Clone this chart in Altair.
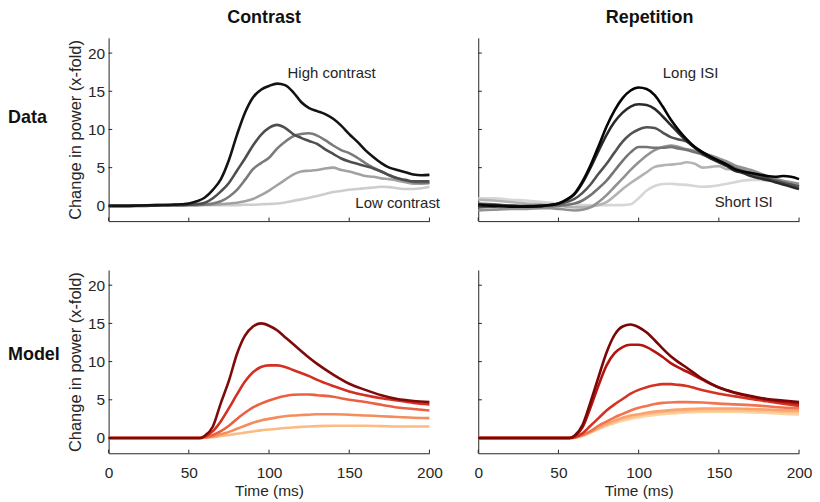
import altair as alt
import pandas as pd

FONT = "Liberation Sans, Arial, Helvetica, sans-serif"
INK = "#262626"

# ---------------- data ----------------
t_data = [0, 10, 20, 30, 40, 45, 50, 55, 60, 65, 70, 75, 80, 85, 90, 95, 100, 105, 110,
          115, 120, 125, 130, 135, 140, 145, 150, 155, 160, 165, 170, 175, 180, 185, 190, 195, 200]

# Contrast data (high -> low contrast)
cd_1 = [0, 0, 0.05, 0.1, 0.15, 0.2, 0.3, 0.6, 1.1, 2.1, 3.5, 6.0, 9.3, 12.2, 14.2, 15.2, 15.7, 16.0, 15.8,
        14.9, 13.6, 12.8, 12.4, 12.0, 11.4, 10.5, 9.4, 8.4, 7.3, 6.4, 5.6, 5.0, 4.7, 4.4, 4.1, 4.0, 4.05]
cd_2 = [0, 0, 0, 0.05, 0.1, 0.1, 0.15, 0.2, 0.4, 1.0, 1.9, 3.0, 4.6, 6.2, 7.9, 9.3, 10.2, 10.6, 10.2,
        9.4, 8.9, 8.5, 8.1, 7.4, 6.8, 6.2, 5.8, 5.5, 5.2, 4.9, 4.5, 4.0, 3.6, 3.4, 3.2, 3.2, 3.2]
cd_3 = [0, 0, 0.05, 0.1, 0.1, 0.1, 0.1, 0.1, 0.15, 0.3, 0.6, 1.2, 2.1, 3.4, 4.8, 5.6, 6.3, 7.5, 8.4,
        9.1, 9.4, 9.5, 9.2, 8.6, 7.9, 7.3, 6.9, 6.3, 5.6, 5.0, 4.5, 4.0, 3.6, 3.3, 3.1, 3.0, 3.0]
cd_4 = [0, 0, 0.05, 0.1, 0.15, 0.15, 0.15, 0.15, 0.15, 0.15, 0.2, 0.3, 0.4, 0.6, 0.9, 1.4, 2.0, 2.7, 3.4,
        4.1, 4.5, 4.6, 4.7, 4.9, 5.0, 4.7, 4.5, 4.2, 3.9, 3.8, 3.6, 3.5, 3.3, 3.1, 2.9, 2.9, 3.0]
cd_5 = [0, 0, 0, 0.05, 0.1, 0.1, 0.1, 0.1, 0.1, 0.1, 0.1, 0.1, 0.1, 0.15, 0.15, 0.2, 0.25, 0.3, 0.45,
        0.65, 0.85, 1.05, 1.3, 1.55, 1.8, 1.95, 2.1, 2.2, 2.3, 2.4, 2.5, 2.45, 2.3, 2.2, 2.2, 2.3, 2.5]

# Repetition data (long -> short ISI)
rd_1 = [0.1, 0.0, -0.1, -0.1, 0.0, 0.1, 0.3, 0.8, 1.6, 3.2, 5.3, 7.8, 10.4, 12.5, 14.1, 15.1, 15.5, 15.3, 14.5,
        13.0, 11.3, 9.9, 8.7, 7.7, 7.0, 6.4, 5.9, 5.4, 4.8, 4.5, 4.3, 4.1, 3.9, 3.8, 3.9, 3.8, 3.5]
rd_2 = [0.2, 0.1, 0.0, -0.1, 0.0, 0.1, 0.3, 0.8, 1.5, 3.0, 5.0, 7.2, 9.3, 11.0, 12.2, 13.0, 13.3, 13.2, 12.7,
        11.7, 10.6, 9.5, 8.5, 7.6, 6.8, 6.2, 5.7, 5.2, 4.6, 4.3, 3.9, 3.6, 3.4, 3.1, 2.8, 2.5, 2.2]
rd_3 = [-0.2, -0.1, 0.0, 0.0, 0.0, 0.1, 0.2, 0.5, 0.9, 1.7, 2.8, 4.2, 5.5, 7.0, 8.4, 9.4, 10.0, 10.3, 10.2,
        9.6, 9.0, 8.7, 8.4, 7.7, 7.0, 6.4, 5.8, 5.3, 4.8, 4.5, 4.2, 3.9, 3.6, 3.3, 3.0, 2.8, 2.5]
rd_4 = [0.3, 0.2, 0.0, -0.1, -0.1, 0.0, 0.0, 0.1, 0.3, 0.7, 1.4, 2.3, 3.3, 4.6, 5.9, 7.0, 7.7, 7.7, 7.6,
        7.6, 7.7, 7.5, 7.3, 7.0, 6.7, 6.3, 5.9, 5.5, 5.0, 4.6, 4.3, 4.0, 3.7, 3.4, 3.1, 2.8, 2.6]
rd_5 = [-0.6, -0.5, -0.4, -0.4, -0.3, -0.3, -0.4, -0.5, -0.6, -0.5, -0.2, 0.5, 1.4, 2.5, 3.6, 4.7, 5.7, 6.6, 7.3,
        7.7, 7.9, 7.7, 7.4, 7.2, 6.9, 6.6, 6.2, 5.8, 5.3, 5.0, 4.7, 4.3, 3.9, 3.6, 3.3, 3.1, 2.9]
rd_6 = [0.8, 0.7, 0.5, 0.3, 0.2, 0.1, 0.0, -0.1, -0.2, -0.2, -0.1, 0.1, 0.5, 1.3, 2.2, 3.0, 3.7, 4.4, 5.1,
        5.3, 5.4, 5.5, 5.7, 5.5, 5.0, 5.1, 5.2, 4.8, 4.8, 4.7, 4.5, 4.2, 3.8, 3.4, 3.1, 2.8, 2.6]
rd_7 = [1.0, 1.0, 0.8, 0.7, 0.5, 0.4, 0.3, 0.3, 0.2, 0.1, 0.1, 0.1, 0.1, 0.1, 0.1, 0.2, 1.0, 2.0, 2.6,
        2.85, 2.9, 2.8, 2.75, 2.6, 2.5, 2.55, 2.7, 2.9, 3.1, 3.3, 3.4, 3.4, 3.3, 3.3, 3.2, 3.0, 2.75]

t_model = [0, 50, 57, 60, 65, 70, 75, 80, 85, 90, 95, 100, 105, 110, 115, 120, 125, 130,
           140, 150, 160, 170, 180, 190, 200]

# Contrast model
mc_1 = [0, 0, 0, 0.3, 1.5, 4.6, 7.5, 11.0, 13.4, 14.6, 15.0, 14.7, 14.1, 13.2, 12.3, 11.4, 10.5, 9.7,
        8.3, 7.1, 6.3, 5.6, 5.1, 4.85, 4.7]
mc_2 = [0, 0, 0, 0.2, 0.9, 2.2, 3.9, 5.7, 7.4, 8.6, 9.3, 9.5, 9.5, 9.3, 8.9, 8.5, 8.1, 7.6,
        6.8, 6.1, 5.6, 5.2, 4.9, 4.6, 4.4]
mc_3 = [0, 0, 0, 0.1, 0.4, 0.9, 1.6, 2.5, 3.3, 4.0, 4.5, 4.9, 5.25, 5.5, 5.65, 5.7, 5.7, 5.6,
        5.4, 5.0, 4.7, 4.35, 4.0, 3.8, 3.6]
mc_4 = [0, 0, 0, 0.05, 0.2, 0.5, 0.8, 1.2, 1.6, 2.0, 2.3, 2.5, 2.7, 2.85, 2.95, 3.0, 3.05, 3.1,
        3.1, 3.05, 2.95, 2.85, 2.75, 2.65, 2.6]
mc_5 = [0, 0, 0, 0.02, 0.1, 0.25, 0.4, 0.55, 0.7, 0.85, 1.0, 1.1, 1.2, 1.3, 1.38, 1.45, 1.5, 1.55,
        1.6, 1.6, 1.6, 1.55, 1.5, 1.5, 1.5]

# Repetition model
mr_1 = [0, 0, 0, 0.3, 1.7, 4.7, 8.0, 11.2, 13.5, 14.6, 14.85, 14.5, 13.8, 12.8, 11.7, 10.7, 9.9, 9.2,
        7.7, 6.6, 5.95, 5.5, 5.1, 4.9, 4.7]
mr_2 = [0, 0, 0, 0.25, 1.4, 4.0, 6.9, 9.5, 11.1, 11.9, 12.2, 12.2, 11.9, 11.3, 10.6, 9.8, 9.2, 8.7,
        7.6, 6.6, 5.9, 5.4, 5.0, 4.75, 4.5]
mr_3 = [0, 0, 0, 0.1, 0.6, 1.6, 2.6, 3.6, 4.4, 5.1, 5.8, 6.3, 6.65, 6.9, 7.05, 7.05, 6.95, 6.8,
        6.25, 5.8, 5.45, 5.1, 4.8, 4.5, 4.2]
mr_4 = [0, 0, 0, 0.05, 0.4, 0.9, 1.6, 2.15, 2.7, 3.15, 3.6, 3.95, 4.2, 4.45, 4.6, 4.65, 4.7, 4.7,
        4.65, 4.5, 4.4, 4.3, 4.15, 4.0, 3.9]
mr_5 = [0, 0, 0, 0.05, 0.35, 0.8, 1.35, 1.85, 2.3, 2.65, 2.95, 3.1, 3.3, 3.45, 3.55, 3.65, 3.72, 3.78,
        3.85, 3.85, 3.85, 3.8, 3.72, 3.65, 3.6]
mr_6 = [0, 0, 0, 0.05, 0.3, 0.75, 1.25, 1.7, 2.1, 2.45, 2.72, 2.92, 3.1, 3.25, 3.35, 3.42, 3.5, 3.55,
        3.6, 3.6, 3.6, 3.58, 3.5, 3.42, 3.35]
mr_7 = [0, 0, 0, 0.05, 0.28, 0.7, 1.15, 1.6, 1.95, 2.25, 2.5, 2.7, 2.88, 3.0, 3.1, 3.2, 3.27, 3.33,
        3.4, 3.42, 3.4, 3.35, 3.28, 3.15, 3.05]

x_ticks = [0, 50, 100, 150, 200]
y_ticks = [0, 5, 10, 15, 20]
x_domain = [0, 200]
y_domain = [-2, 22]

# colours, lightest first (drawn first)
gray_contrast = ["#cdcdcd", "#a2a2a2", "#7b7b7b", "#4e4e4e", "#131313"]
gray_repetition = ["#d6d6d6", "#b3b3b3", "#929292", "#747474", "#525252", "#2a2a2a", "#050505"]
red_contrast = ["#fdbb84", "#f58c5c", "#ec6042", "#d52f22", "#7e0a0a"]
red_repetition = ["#fdd6a4", "#fdc08c", "#fca26f", "#f2744e", "#d43323", "#b21410", "#7a0606"]

col_titles = ["Contrast", "Repetition"]
row_titles = ["Data", "Model"]
y_title = "Change in power (x-fold)"
x_title = "Time (ms)"

# ---------------- chart ----------------
W, H = 322, 184
TICK_SIZE = 52


def panel(t, series, colors, show_x, show_y, notes, labels):
    rows = []
    for i, (vals, col) in enumerate(zip(series, colors)):
        for tt, vv in zip(t, vals):
            rows.append({"t": tt, "v": vv, "s": f"s{i}", "c": col})
    df = pd.DataFrame(rows)

    x_axis = alt.Axis(values=x_ticks, ticks=False, tickSize=0, grid=False,
                      labels=show_x, labelPadding=12, labelFontSize=15.5, labelFont=FONT,
                      labelColor=INK, labelFlush=False, domainColor=INK, domainWidth=1,
                      title=x_title if show_x else None, titleFontSize=15.5, titleFont=FONT,
                      titleFontWeight="normal", titleColor=INK, titlePadding=3)
    y_axis = alt.Axis(values=y_ticks, ticks=False, tickSize=0, grid=False,
                      labels=show_y, labelPadding=4, labelFontSize=15.5, labelFont=FONT,
                      labelColor=INK, labelFlush=False, domainColor=INK, domainWidth=1,
                      title=y_title if show_y else None, titleFontSize=16.5, titleFont=FONT,
                      titleFontWeight="normal", titleColor=INK, titlePadding=4)
    X = alt.X("t:Q", scale=alt.Scale(domain=x_domain, nice=False, zero=False), axis=x_axis)
    Y = alt.Y("v:Q", scale=alt.Scale(domain=y_domain, nice=False, zero=False), axis=y_axis)

    lines = alt.Chart(df).mark_line(interpolate="monotone", strokeWidth=2.6).encode(
        x=X, y=Y, color=alt.Color("c:N", scale=None), detail="s:N", order="s:N")

    ytk = alt.Chart(pd.DataFrame({"t": [x_domain[0]] * len(y_ticks), "v": y_ticks})).mark_point(
        shape="M0,0L1,0", size=TICK_SIZE, filled=False, stroke=INK, strokeWidth=1, opacity=1
    ).encode(x=X, y=Y)
    xtk = alt.Chart(pd.DataFrame({"t": x_ticks, "v": [y_domain[0]] * len(x_ticks)})).mark_point(
        shape="M0,0L0,-1", size=TICK_SIZE, filled=False, stroke=INK, strokeWidth=1, opacity=1
    ).encode(x=X, y=Y)

    note_df = pd.DataFrame(notes)
    note_layer = alt.Chart(note_df).mark_text(
        font=FONT, fontSize=15, color=INK, align="center", baseline="middle"
    ).encode(x=X, y=Y, text="label:N")

    layers = [lines, ytk, xtk, note_layer]
    for lab in labels:
        layers.append(
            alt.Chart(pd.DataFrame({"label": [lab["text"]]})).mark_text(
                font=FONT, fontSize=18, fontWeight="bold", color="#111111",
                align=lab["align"], baseline=lab["baseline"]
            ).encode(x=alt.value(lab["px"]), y=alt.value(lab["py"]), text="label:N")
        )
    return alt.layer(*layers).properties(width=W, height=H)


p11 = panel(t_data, [cd_5, cd_4, cd_3, cd_2, cd_1], gray_contrast, False, True,
            {"t": [139, 180.2], "v": [17.4, 0.4], "label": ["High contrast", "Low contrast"]},
            [{"text": col_titles[0], "px": 156, "py": -15, "align": "center", "baseline": "alphabetic"},
             {"text": row_titles[0], "px": -101, "py": 81, "align": "left", "baseline": "middle"}])
p12 = panel(t_data, [rd_7, rd_6, rd_5, rd_4, rd_3, rd_2, rd_1], gray_repetition, False, False,
            {"t": [132.4, 165.5], "v": [17.4, 0.5], "label": ["Long ISI", "Short ISI"]},
            [{"text": col_titles[1], "px": 172, "py": -15, "align": "center", "baseline": "alphabetic"}])
p21 = panel(t_model, [mc_5, mc_4, mc_3, mc_2, mc_1], red_contrast, True, True,
            {"t": [], "v": [], "label": []},
            [{"text": row_titles[1], "px": -101, "py": 85, "align": "left", "baseline": "middle"}])
p22 = panel(t_model, [mr_7, mr_6, mr_5, mr_4, mr_3, mr_2, mr_1], red_repetition, True, False,
            {"t": [], "v": [], "label": []}, [])

chart = alt.concat(p11, p12, p21, p22, columns=2, spacing=49, bounds="flush").properties(
    padding={"left": 0, "top": 0, "right": 0, "bottom": 0}
).configure_view(stroke=None).configure_axis(grid=False)

chart.save("out.html", embed_options={"renderer": "svg", "actions": False})
